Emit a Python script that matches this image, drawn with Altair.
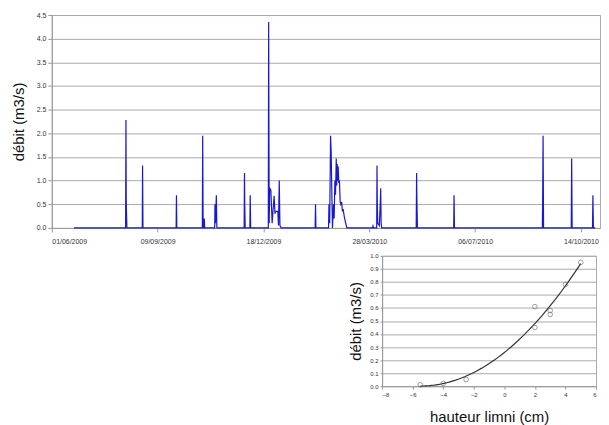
import altair as alt
import pandas as pd

# ---- time series (débit, m3/s) ----
temps = [
    "2009-06-22T00:00",
    "2009-08-09T18:00", "2009-08-10T02:00", "2009-08-10T08:00", "2009-08-10T14:00", "2009-08-11T00:00",
    "2009-08-25T12:00", "2009-08-25T19:00", "2009-08-26T04:00",
    "2009-09-26T12:00", "2009-09-26T19:00", "2009-09-27T04:00",
    "2009-10-21T06:00", "2009-10-21T14:00", "2009-10-22T00:00", "2009-10-22T20:00", "2009-10-23T02:00", "2009-10-23T12:00",
    "2009-11-01T22:00", "2009-11-02T05:00", "2009-11-02T16:00", "2009-11-03T12:00", "2009-11-04T00:00",
    "2009-11-29T18:00", "2009-11-30T02:00", "2009-11-30T08:00", "2009-11-30T18:00",
    "2009-12-05T04:00", "2009-12-05T12:00", "2009-12-05T22:00",
    "2009-12-22T14:00", "2009-12-22T22:00", "2009-12-23T10:00", "2009-12-23T22:00", "2009-12-25T00:00",
    "2009-12-26T05:00", "2009-12-28T02:00", "2009-12-28T22:00", "2009-12-29T10:00", "2009-12-31T14:00",
    "2010-01-01T05:00", "2010-01-01T22:00", "2010-01-02T14:00", "2010-01-03T17:00",
    "2010-02-04T20:00", "2010-02-05T05:00", "2010-02-05T14:00",
    "2010-02-17T12:00", "2010-02-17T22:00", "2010-02-18T14:00", "2010-02-19T10:00", "2010-02-20T00:00",
    "2010-02-20T14:00", "2010-02-21T05:00", "2010-02-22T05:00", "2010-02-22T19:00", "2010-02-23T12:00",
    "2010-02-24T02:00", "2010-02-24T19:00", "2010-02-25T05:00", "2010-02-25T17:00", "2010-02-26T05:00",
    "2010-02-26T14:00", "2010-02-27T05:00", "2010-02-27T19:00", "2010-02-28T12:00", "2010-03-01T02:00",
    "2010-03-01T22:00", "2010-03-02T14:00", "2010-03-03T07:00", "2010-03-04T07:00", "2010-03-05T05:00",
    "2010-03-06T19:00",
    "2010-03-31T00:00", "2010-03-31T12:00", "2010-04-01T00:00",
    "2010-04-04T00:00", "2010-04-04T07:00", "2010-04-04T14:00", "2010-04-05T00:00", "2010-04-06T12:00",
    "2010-04-07T12:00", "2010-04-07T19:00", "2010-04-08T05:00", "2010-04-08T17:00",
    "2010-05-11T08:00", "2010-05-11T17:00", "2010-05-12T00:00", "2010-05-12T12:00",
    "2010-06-15T18:00", "2010-06-16T02:00", "2010-06-16T12:00",
    "2010-09-07T12:00", "2010-09-07T19:00", "2010-09-08T05:00", "2010-09-08T16:00",
    "2010-10-04T20:00", "2010-10-05T05:00", "2010-10-05T16:00",
    "2010-10-24T22:00", "2010-10-25T07:00", "2010-10-25T18:00",
    "2010-10-27T12:00",
]
debit = [
    0.0,
    0.0, 2.28, 0.6, 0.35, 0.0,
    0.0, 1.32, 0.0,
    0.0, 0.69, 0.0,
    0.0, 1.95, 0.0, 0.0, 0.2, 0.0,
    0.0, 0.5, 0.1, 0.69, 0.0,
    0.0, 1.16, 0.5, 0.0,
    0.0, 0.69, 0.0,
    0.0, 4.35, 0.1, 0.84, 0.8,
    0.1, 0.68, 0.3, 0.35, 0.35,
    0.05, 1.0, 0.05, 0.0,
    0.0, 0.5, 0.0,
    0.0, 0.5, 0.1, 1.95, 1.6,
    0.8, 0.0, 0.5, 0.2, 1.0,
    0.7, 1.47, 0.9, 1.35, 1.0,
    1.3, 0.95, 1.0, 0.55, 0.5,
    0.55, 0.35, 0.4, 0.25, 0.15,
    0.0,
    0.0, 0.04, 0.0,
    0.0, 1.32, 0.5, 0.1, 0.05,
    0.6, 0.84, 0.1, 0.0,
    0.0, 1.16, 0.6, 0.0,
    0.0, 0.69, 0.0,
    0.0, 0.5, 1.95, 0.0,
    0.0, 1.47, 0.0,
    0.0, 0.69, 0.0,
    0.0,
]
x_tick_dates = ["2009-06-01", "2009-09-09", "2009-12-18", "2010-03-28", "2010-07-06", "2010-10-14"]
x_domain = ["2009-06-01", "2010-11-01"]
y_ticks = [0.0, 0.5, 1.0, 1.5, 2.0, 2.5, 3.0, 3.5, 4.0, 4.5]

# ---- rating curve (hauteur limni vs débit) ----
hauteur = [-5.5, -4.0, -2.5, 2.0, 2.0, 3.0, 3.0, 4.0, 5.0]
debit_jauge = [0.01, 0.02, 0.05, 0.61, 0.45, 0.58, 0.55, 0.78, 0.95]
h_ticks = [-8, -6, -4, -2, 0, 2, 4, 6]
q_ticks = [0.0, 0.1, 0.2, 0.3, 0.4, 0.5, 0.6, 0.7, 0.8, 0.9, 1.0]

FONT = "Liberation Sans"


def dt(s):
    return alt.DateTime(year=int(s[:4]), month=int(s[5:7]), date=int(s[8:10]))


serie = pd.DataFrame({"t": pd.to_datetime(temps), "q": debit})

main = alt.Chart(serie).mark_line(color="#1a1acc", strokeWidth=1.2).encode(
    x=alt.X("t:T",
            scale=alt.Scale(domain=[dt(s) for s in x_domain], nice=False),
            axis=alt.Axis(values=[dt(s) for s in x_tick_dates], format="%d/%m/%Y", title=None,
                          grid=False, labelFontSize=7, tickSize=4, labelPadding=6,
                          labelOverlap=False)),
    y=alt.Y("q:Q",
            scale=alt.Scale(domain=[0, 4.5], nice=False, zero=True),
            axis=alt.Axis(values=y_ticks, format=".1f", title="débit (m3/s)", titleFontSize=15,
                          labelFontSize=7, tickSize=4, labelPadding=2, titlePadding=10,
                          grid=True)),
).properties(width=551, height=214)

jauge = pd.DataFrame({"h": hauteur, "q": debit_jauge})
xi = alt.X("h:Q", scale=alt.Scale(domain=[-8, 6], nice=False, zero=False),
           axis=alt.Axis(values=h_ticks, format="d", title="hauteur limni (cm)", titleFontSize=15,
                         labelFontSize=6, tickSize=3, labelPadding=2, titlePadding=13, grid=False))
yi = alt.Y("q:Q", scale=alt.Scale(domain=[0, 1.0], nice=False),
           axis=alt.Axis(values=q_ticks, format=".1f", title="débit (m3/s)", titleFontSize=15,
                         labelFontSize=6, tickSize=2, labelPadding=2, titlePadding=6, grid=True))

pts = alt.Chart(jauge).mark_point(shape="circle", filled=False, color="#666666", size=22,
                                  strokeWidth=0.9).encode(x=xi, y=yi)
fit = alt.Chart(jauge).transform_regression("h", "q", method="poly", order=2).mark_line(
    color="#333333", strokeWidth=1.2).encode(x=xi, y=yi)
inset = alt.layer(fit, pts).properties(width=215, height=131)

spacer = alt.Chart(pd.DataFrame({"a": [0]})).mark_point(opacity=0).encode(
    x=alt.value(0), y=alt.value(0)
).properties(width=297, height=131, view=alt.ViewBackground(stroke="transparent"))

row2 = alt.hconcat(spacer, inset, spacing=0)

chart = alt.vconcat(main, row2, spacing=6).properties(
    padding={"top": 1, "left": 2, "right": 0, "bottom": 0},
    background="white",
).configure(font=FONT).configure_axis(
    labelFont=FONT, titleFont=FONT, labelColor="#333333", titleColor="#111111",
    titleFontWeight="normal", domainColor="#999999", tickColor="#999999",
    gridColor="#aaaaaa", gridWidth=1,
).configure_view(stroke="#aaaaaa")

chart.save("out.html", embed_options={"renderer": "svg", "actions": False})
